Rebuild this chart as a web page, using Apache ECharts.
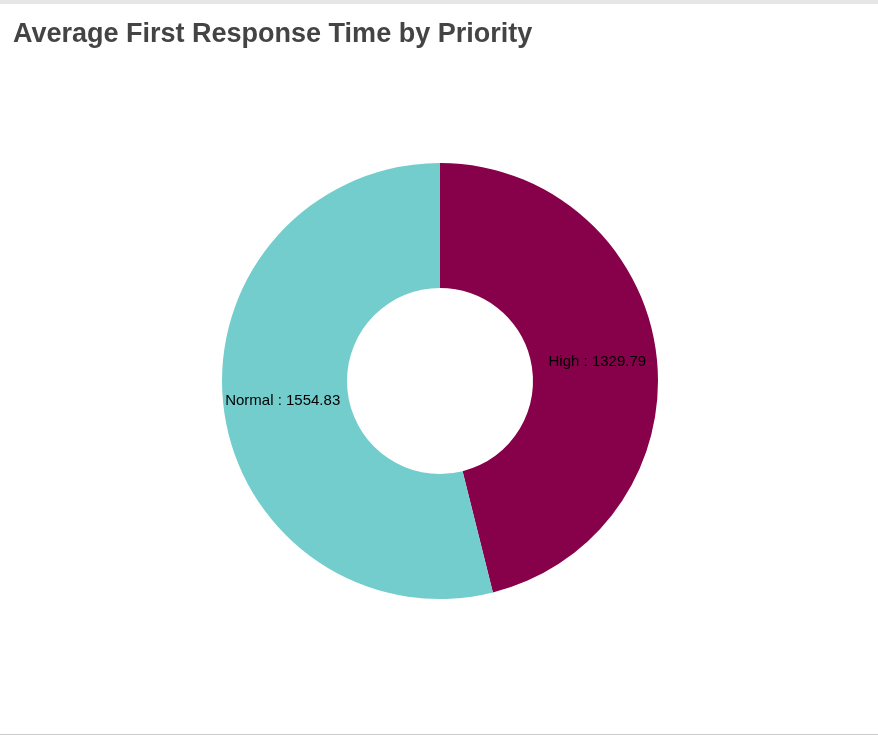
<!DOCTYPE html>
<html>
<head>
<meta charset="utf-8">
<script src="https://cdn.jsdelivr.net/npm/echarts@6/dist/echarts.min.js"></script>
<style>
  html, body { margin: 0; padding: 0; background: #fff; }
  #wrap { width: 878px; height: 735px; box-sizing: border-box; border-top: 4px solid #e6e6e6; border-bottom: 1px solid #ccc; }
  #chart { width: 878px; height: 730px; }
</style>
</head>
<body>
<div id="wrap"><div id="chart"></div></div>
<script>
var titleText = 'Average First Response Time by Priority';
var categories = ['High', 'Normal'];
var values = [1329.79, 1554.83];
var colors = ['#87004a', '#74cdcd'];

var chart = echarts.init(document.getElementById('chart'));
chart.setOption({
  title: {
    text: titleText,
    left: 8, top: 12,
    textStyle: { fontFamily: 'Liberation Sans, Arial', fontSize: 27, fontWeight: 'bold', color: '#444' }
  },
  series: [{
    type: 'pie',
    center: [440, 377],
    radius: [93, 218],
    startAngle: 90,
    clockwise: true,
    silent: true,
    label: {
      position: 'inside',
      formatter: '{b} : {c}',
      color: '#000',
      fontFamily: 'Liberation Sans, Arial',
      fontSize: 15
    },
    labelLine: { show: false },
    data: categories.map(function (c, i) {
      return { name: c, value: values[i], itemStyle: { color: colors[i] } };
    })
  }]
});
</script>
</body>
</html>
